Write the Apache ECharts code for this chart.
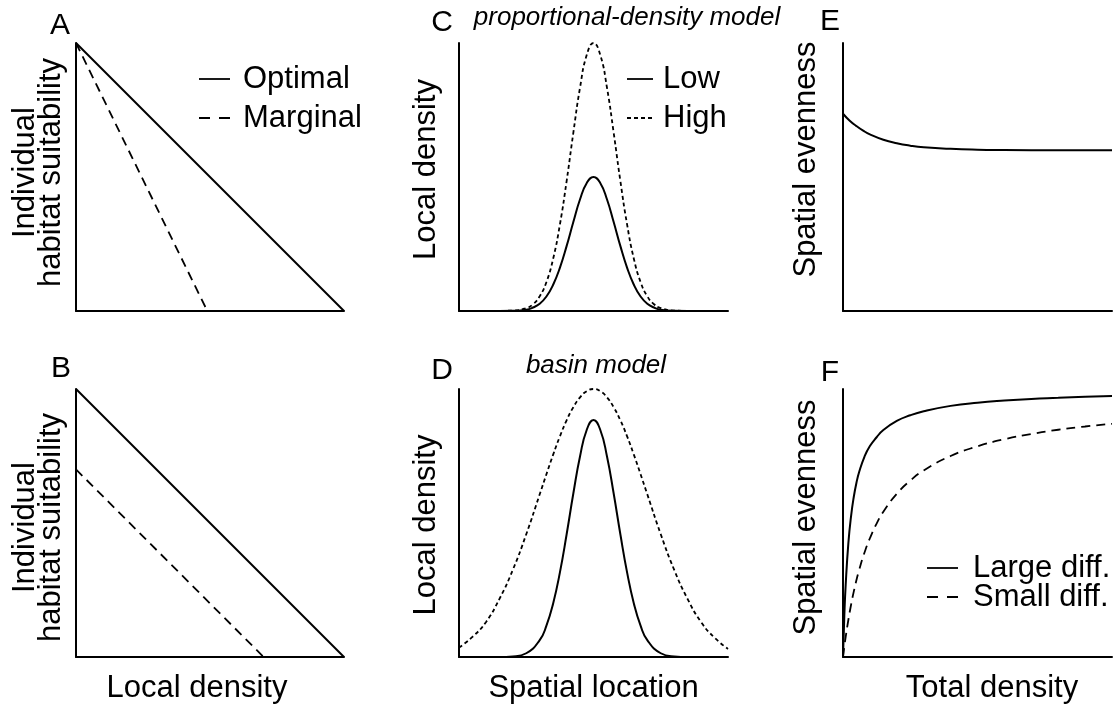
<!DOCTYPE html>
<html>
<head>
<meta charset="utf-8">
<script src="https://cdn.jsdelivr.net/npm/echarts@6/dist/echarts.min.js"></script>
<style>
  html, body { margin: 0; padding: 0; background: #fff; }
  #chart { width: 1113px; height: 708px; }
</style>
</head>
<body>
<div id="chart"></div>
<script>
// ---------- Data ----------
// Panel A: individual habitat suitability vs local density
const xA_opt = [0, 1];
const yA_opt = [1, 0];
const xA_marg = [0, 0.49];
const yA_marg = [1, 0];
// Panel B
const xB_opt = [0, 1];
const yB_opt = [1, 0];
const xB_marg = [0, 0.7];
const yB_marg = [0.7, 0];
// Panel C: proportional-density model
const xC = [0, 0.1, 0.2, 0.25, 0.275, 0.3, 0.325, 0.35, 0.375, 0.4, 0.425, 0.45, 0.475, 0.5,
            0.525, 0.55, 0.575, 0.6, 0.625, 0.65, 0.675, 0.7, 0.725, 0.75, 0.8, 0.9, 1];
const lowC  = [0, 0, 0.001, 0.005, 0.013, 0.027, 0.054, 0.098, 0.161, 0.242, 0.332, 0.417, 0.478, 0.5,
               0.478, 0.417, 0.332, 0.242, 0.161, 0.098, 0.054, 0.027, 0.013, 0.005, 0.001, 0, 0];
const highC = [0, 0, 0.0015, 0.011, 0.025, 0.055, 0.108, 0.195, 0.322, 0.484, 0.665, 0.834, 0.956, 1.0,
               0.956, 0.834, 0.665, 0.484, 0.322, 0.195, 0.108, 0.055, 0.025, 0.011, 0.0015, 0, 0];
// Panel D: basin model
const xD = [0, 0.05, 0.1, 0.15, 0.2, 0.25, 0.3, 0.325, 0.35, 0.375, 0.4, 0.425, 0.45, 0.475, 0.5,
            0.525, 0.55, 0.575, 0.6, 0.625, 0.65, 0.675, 0.7, 0.75, 0.8, 0.85, 0.9, 0.95, 1];
const lowD  = [0, 0, 0, 0, 0.002, 0.014, 0.063, 0.117, 0.2, 0.315, 0.457, 0.61, 0.749, 0.848, 0.884,
               0.848, 0.749, 0.61, 0.457, 0.315, 0.2, 0.117, 0.063, 0.014, 0.002, 0, 0, 0, 0];
const highD = [0.035, 0.075, 0.13, 0.216, 0.325, 0.458, 0.607, 0.682, 0.755, 0.823, 0.883, 0.932, 0.969, 0.992, 1.0,
               0.992, 0.969, 0.932, 0.883, 0.823, 0.755, 0.682, 0.607, 0.458, 0.325, 0.216, 0.13, 0.072, 0.03];
// Panel E: spatial evenness vs total density
const xE = [0, 0.025, 0.05, 0.075, 0.1, 0.15, 0.2, 0.25, 0.3, 0.4, 0.5, 0.6, 0.8, 1];
const yE = [0.736, 0.71, 0.69, 0.673, 0.659, 0.639, 0.626, 0.617, 0.611, 0.605, 0.602, 0.601, 0.6, 0.6];
// Panel F
const xF = [0, 0.005, 0.01, 0.02, 0.03, 0.04, 0.05, 0.06, 0.08, 0.1, 0.125, 0.15, 0.2, 0.25, 0.3, 0.4, 0.5, 0.6, 0.7, 0.8, 0.9, 1];
const largeF = [0, 0.156, 0.27, 0.426, 0.526, 0.597, 0.65, 0.69, 0.748, 0.787, 0.82, 0.847, 0.881, 0.902, 0.917, 0.937, 0.949, 0.957, 0.963, 0.967, 0.971, 0.974];
const smallF = [0, 0.039, 0.075, 0.139, 0.195, 0.244, 0.287, 0.325, 0.39, 0.443, 0.498, 0.542, 0.609, 0.658, 0.696, 0.75, 0.786, 0.8125, 0.832, 0.848, 0.86, 0.87];

// Text
const panelLetters = ['A', 'B', 'C', 'D', 'E', 'F'];
const legendA = ['Optimal', 'Marginal'];
const legendC = ['Low', 'High'];
const legendF = ['Large diff.', 'Small diff.'];
const titleC = 'proportional-density model';
const titleD = 'basin model';

// ---------- Chart ----------
const FONT = "'Liberation Sans', Arial, Helvetica, sans-serif";
const BLACK = '#000';
const FS = 31;
const zip = (xs, ys) => xs.map((x, i) => [x, ys[i]]);

const grids = [
  { left: 76,  top: 43,  width: 268, height: 268 }, // A
  { left: 76,  top: 389, width: 268, height: 268 }, // B
  { left: 459, top: 43,  width: 269, height: 268 }, // C
  { left: 459, top: 389, width: 269, height: 268 }, // D
  { left: 843, top: 43,  width: 269, height: 268 }, // E
  { left: 843, top: 389, width: 269, height: 268 }  // F
];

function xAx(i, name, pad) {
  return {
    type: 'value', gridIndex: i, min: 0, max: 1,
    axisLine: { show: true, onZero: false, lineStyle: { color: BLACK, width: 2 } },
    axisTick: { show: false }, axisLabel: { show: false }, splitLine: { show: false },
    name: name || '', nameLocation: 'middle', nameGap: 16,
    nameTextStyle: { color: BLACK, fontSize: FS, fontFamily: FONT, padding: pad || 0 }
  };
}
function yAx(i, name, gap, pad, lh) {
  return {
    type: 'value', gridIndex: i, min: 0, max: 1,
    axisLine: { show: true, onZero: false, lineStyle: { color: BLACK, width: 2 } },
    axisTick: { show: false }, axisLabel: { show: false }, splitLine: { show: false },
    name: name, nameLocation: 'middle', nameGap: gap, nameRotate: 90,
    nameTextStyle: { color: BLACK, fontSize: FS, fontFamily: FONT, padding: pad || 0, lineHeight: lh || FS }
  };
}

function line(i, xs, ys, type, smooth, width) {
  return {
    type: 'line', xAxisIndex: i, yAxisIndex: i, data: zip(xs, ys),
    symbol: 'none', showSymbol: false, silent: true, clip: false,
    smooth: smooth || false,
    lineStyle: { color: BLACK, width: width || 2, type: type || 'solid' }
  };
}

const DASH = [9, 6];
const DOT = [4, 3];

function txt(x, y, s, size, extra) {
  return {
    type: 'text', x: x, y: y, silent: true,
    style: Object.assign({ text: s, fill: BLACK, font: (size || FS) + 'px ' + FONT, align: 'left', verticalAlign: 'middle' }, extra || {})
  };
}
function seg(x1, y1, x2, y2, dash) {
  return {
    type: 'line', silent: true,
    shape: { x1: x1, y1: y1, x2: x2, y2: y2 },
    style: { stroke: BLACK, lineWidth: 1.8, lineDash: dash || null }
  };
}

const graphics = [
  // panel letters
  txt(60, 26, panelLetters[0], 30, { align: 'center' }),
  txt(61, 369, panelLetters[1], 30, { align: 'center' }),
  txt(442, 23, panelLetters[2], 30, { align: 'center' }),
  txt(442, 371, panelLetters[3], 30, { align: 'center' }),
  txt(830, 22, panelLetters[4], 30, { align: 'center' }),
  txt(830, 373, panelLetters[5], 30, { align: 'center' }),
  // titles
  txt(627, 18, titleC, 26, { align: 'center', font: 'italic 26px ' + FONT }),
  txt(596, 366, titleD, 26, { align: 'center', font: 'italic 26px ' + FONT }),
  // legend A
  seg(199, 79, 230, 79), txt(243, 79, legendA[0]),
  seg(199, 118, 230, 118, [11, 9]), txt(243, 118, legendA[1]),
  // legend C
  seg(627, 79, 653, 79), txt(663, 79, legendC[0]),
  seg(627, 118, 653, 118, [4, 3]), txt(663, 118, legendC[1]),
  // legend F
  seg(927, 568, 958, 568), txt(973, 568, legendF[0]),
  seg(927, 597, 958, 597, [11, 9]), txt(973, 597, legendF[1])
];

const option = {
  animation: false,
  backgroundColor: '#fff',
  textStyle: { fontFamily: FONT, color: BLACK },
  grid: grids,
  xAxis: [
    xAx(0, ''), xAx(1, 'Local density', [0, 26, 0, 0]),
    xAx(2, ''), xAx(3, 'Spatial location'),
    xAx(4, ''), xAx(5, 'Total density', [0, 0, 0, 29])
  ],
  yAxis: [
    yAx(0, 'Individual\nhabitat suitability', 12, [0, 0, 0, 9], 26),
    yAx(1, 'Individual\nhabitat suitability', 12, [0, 9, 0, 0], 26),
    yAx(2, 'Local density', 17, [0, 0, 0, 15]),
    yAx(3, 'Local density', 17, [0, 4, 0, 0]),
    yAx(4, 'Spatial evenness', 21, [0, 0, 0, 35]),
    yAx(5, 'Spatial evenness', 21, [0, 0, 0, 11])
  ],
  series: [
    line(0, xA_opt, yA_opt),
    line(0, xA_marg, yA_marg, DASH, false, 1.8),
    line(1, xB_opt, yB_opt),
    line(1, xB_marg, yB_marg, DASH, false, 1.8),
    line(2, xC, lowC, 'solid', true),
    line(2, xC, highC, DOT, true, 1.8),
    line(3, xD, lowD, 'solid', true),
    line(3, xD, highD, DOT, true, 1.8),
    line(4, xE, yE, 'solid', true),
    line(5, xF, largeF, 'solid', true),
    line(5, xF, smallF, DASH, true, 1.8)
  ],
  graphic: graphics
};

const chart = echarts.init(document.getElementById('chart'), null, { renderer: 'canvas' });
chart.setOption(option);
</script>
</body>
</html>
